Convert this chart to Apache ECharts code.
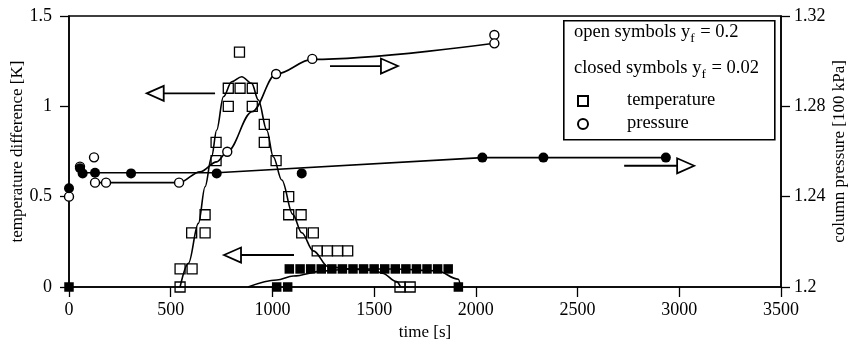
<!DOCTYPE html>
<html>
<head>
<meta charset="utf-8">
<script src="https://cdn.jsdelivr.net/npm/echarts@6/dist/echarts.min.js"></script>
<style>html,body{margin:0;padding:0;background:#fff}#c{width:858px;height:349px}</style>
</head>
<body>
<div id="c"></div>
<script>
// ---- tick labels ----
const xTickLabels = ['0','500','1000','1500','2000','2500','3000','3500'];
const yLeftTickLabels = ['0','0.5','1','1.5'];
const yRightTickLabels = ['1.2','1.24','1.28','1.32'];

// ---- temperature difference [K], yf = 0.2 (open squares) : [time s, K]
const openTempPoints = [
  [546,0],[546,0.1],[605,0.1],[603,0.3],[669,0.3],[669,0.4],[723,0.7],[723,0.8],
  [783,1.0],[783,1.1],[841,1.1],[838,1.3],[901,1.1],[901,1.0],[960,0.9],[960,0.8],
  [1018,0.7],[1080,0.5],[1080,0.4],[1141,0.4],[1144,0.3],[1201,0.3],
  [1220,0.2],[1270,0.2],[1320,0.2],[1370,0.2],[1627,0],[1677,0]
];
// ---- temperature difference [K], yf = 0.02 (closed squares)
const closedTempPoints = [
  [0,0],[1021,0],[1075,0],
  [1083,0.1],[1136,0.1],[1188,0.1],[1240,0.1],[1292,0.1],[1344,0.1],[1396,0.1],[1448,0.1],
  [1500,0.1],[1552,0.1],[1604,0.1],[1656,0.1],[1708,0.1],[1760,0.1],[1812,0.1],[1864,0.1],
  [1914,0]
];
// ---- column pressure [100 kPa], yf = 0.2 (open circles)
const openPresPoints = [
  [0,1.24],[54,1.2533],[123,1.2574],[128,1.2462],[182,1.2462],[541,1.2462],
  [778,1.2599],[1018,1.2943],[1196,1.3010],[2091,1.3116],[2091,1.3079]
];
// ---- column pressure [100 kPa], yf = 0.02 (closed circles)
const closedPresPoints = [
  [0,1.2437],[54,1.2526],[67,1.2503],[128,1.2506],[305,1.2503],[726,1.2503],
  [1144,1.2503],[2032,1.2573],[2332,1.2573],[2934,1.2573]
];
// ---- fitted curves
const openTempCurve = [
  [546,0],[587,0.131],[636,0.352],[669,0.555],[701,0.721],[726,0.869],[759,1.053],
  [800,1.136],[849,1.164],[898,1.127],[931,1.035],[972,0.869],[1004,0.721],[1046,0.592],
  [1100,0.402],[1144,0.30],[1201,0.20],[1275,0.112],[1380,0.100],[1500,0.092],
  [1540,0.076],[1610,0.03],[1630,0]
];
const closedTempCurve = [
  [880,0],[1021,0.039],[1103,0.061],[1250,0.089],[1380,0.1],[1600,0.1],[1808,0.09],
  [1914,0.043],[1925,0]
];
const openPresCurve = [
  [128,1.2462],[541,1.2462],[644,1.2510],[726,1.2554],[778,1.2599],[900,1.2776],
  [1018,1.2943],[1196,1.3008],[2091,1.3079]
];
const closedPresCurve = [
  [67,1.2506],[726,1.2506],[2032,1.2573],[2934,1.2573]
];
// ---- arrows: [tail time, tip time, temperature-axis level]
const arrows = [
  [718,382,1.072],[1283,1617,1.223],[1106,762,0.177],[2729,3073,0.671]
];

const FONT = '"Liberation Serif","Times New Roman",serif';
const chart = echarts.init(document.getElementById('c'), null, {renderer:'canvas'});

const axisCommon = {
  axisLine:{show:true, onZero:false, lineStyle:{color:'#000', width:1.5}},
  axisTick:{show:true, inside:false, length:9, lineStyle:{color:'#000', width:1.3}},
  splitLine:{show:false},
  nameMoveOverlap:false,
  axisLabel:{color:'#000', fontFamily:FONT, fontSize:18},
  nameTextStyle:{color:'#000', fontFamily:FONT, fontSize:17}
};

function lineSeries(data, yIdx){
  return {type:'line', data, yAxisIndex:yIdx, showSymbol:false, symbol:'none', smooth:0.35,
    smoothMonotone:'x', lineStyle:{color:'#000', width:1.6}, z:2, silent:true};
}

chart.setOption({
  animation:false,
  backgroundColor:'#fff',
  grid:{left:69, right:77, top:16, bottom:62, outerBoundsMode:'none', containLabel:false,
    show:true, borderColor:'#000', borderWidth:1.5, backgroundColor:'transparent'},
  xAxis:Object.assign({}, axisCommon, {
    type:'value', min:0, max:3500, interval:500, name:'time [s]', nameLocation:'middle', nameGap:37,
    axisTick:{show:true, inside:false, length:10, lineStyle:{color:'#000', width:1.3}},
    axisLabel:Object.assign({}, axisCommon.axisLabel, {margin:14, formatter:(v)=>xTickLabels[Math.round(v/500)]})
  }),
  yAxis:[
    Object.assign({}, axisCommon, {
      type:'value', min:0, max:1.5, interval:0.5, position:'left',
      name:'temperature difference [K]', nameLocation:'middle', nameGap:43, nameRotate:90,
      axisLabel:Object.assign({}, axisCommon.axisLabel, {margin:17, formatter:(v)=>yLeftTickLabels[Math.round(v/0.5)]})
    }),
    Object.assign({}, axisCommon, {
      type:'value', min:1.2, max:1.32, interval:0.04, position:'right',
      name:'column pressure [100 kPa]', nameLocation:'middle', nameGap:50, nameRotate:90,
      axisLabel:Object.assign({}, axisCommon.axisLabel, {margin:13, formatter:(v)=>yRightTickLabels[Math.round((v-1.2)/0.04)]})
    })
  ],
  series:[
    lineSeries(openTempCurve,0),
    lineSeries(closedTempCurve,0),
    lineSeries(openPresCurve,1),
    Object.assign(lineSeries(closedPresCurve,1), {smooth:false}),
    {type:'scatter', data:openTempPoints, yAxisIndex:0, symbol:'rect', symbolSize:10, z:3,
      itemStyle:{color:'rgba(255,255,255,0)', borderColor:'#000', borderWidth:1.3, opacity:1}},
    {type:'scatter', data:closedTempPoints, yAxisIndex:0, symbol:'rect', symbolSize:9.5, z:3,
      itemStyle:{color:'#000', opacity:1}},
    {type:'scatter', data:openPresPoints, yAxisIndex:1, symbol:'circle', symbolSize:9, z:3,
      itemStyle:{color:'#fff', borderColor:'#000', borderWidth:1.4, opacity:1}},
    {type:'scatter', data:closedPresPoints, yAxisIndex:1, symbol:'circle', symbolSize:10, z:3,
      itemStyle:{color:'#000', opacity:1}},
    {type:'custom', data:arrows, yAxisIndex:0, z:4, encode:{x:[0,1], y:2},
      renderItem:function(params, api){
        const tail = api.coord([api.value(0), api.value(2)]);
        const tip = api.coord([api.value(1), api.value(2)]);
        const dir = Math.sign(tip[0]-tail[0]);
        const L = 17, H = 7.5;
        const base = tip[0] - dir*L;
        return {type:'group', children:[
          {type:'line', shape:{x1:tail[0], y1:tail[1], x2:base, y2:tail[1]}, style:{stroke:'#000', lineWidth:1.8}},
          {type:'polygon', shape:{points:[[tip[0],tip[1]],[base,tip[1]-H],[base,tip[1]+H]]},
            style:{fill:'#fff', stroke:'#000', lineWidth:1.8}}
        ]};
      }}
  ]
});

// ---- legend box (text with subscripts)
const ctx = document.createElement('canvas').getContext('2d');
function w(txt, size){ ctx.font = size+'px '+FONT; return ctx.measureText(txt).width; }
const LS = 18.5, SS = 13.5;
function subLine(pre, sub, post, x, y){
  const x1 = x + w(pre, LS), x2 = x1 + w(sub, SS) + 1;
  return [
    {type:'text', left:x, top:y, style:{text:pre, font:LS+'px '+FONT, fill:'#000'}},
    {type:'text', left:x1, top:y+8, style:{text:sub, font:SS+'px '+FONT, fill:'#000'}},
    {type:'text', left:x2, top:y, style:{text:post, font:LS+'px '+FONT, fill:'#000'}}
  ];
}
chart.setOption({graphic:[
  {type:'rect', left:563, top:20, shape:{width:211, height:119}, style:{fill:'#fff', stroke:'#000', lineWidth:1.6}, z:10},
  ...subLine('open symbols y','f',' = 0.2',574,23).map(e=>Object.assign(e,{z:11})),
  ...subLine('closed symbols y','f',' = 0.02',574,59).map(e=>Object.assign(e,{z:11})),
  {type:'rect', left:577, top:95, shape:{width:10, height:10}, style:{fill:'#fff', stroke:'#000', lineWidth:2}, z:11},
  {type:'text', left:627, top:91, style:{text:'temperature', font:LS+'px '+FONT, fill:'#000'}, z:11},
  {type:'circle', left:577, top:118, shape:{r:5}, style:{fill:'#fff', stroke:'#000', lineWidth:2}, z:11},
  {type:'text', left:627, top:114, style:{text:'pressure', font:LS+'px '+FONT, fill:'#000'}, z:11}
]});
</script>
</body>
</html>
